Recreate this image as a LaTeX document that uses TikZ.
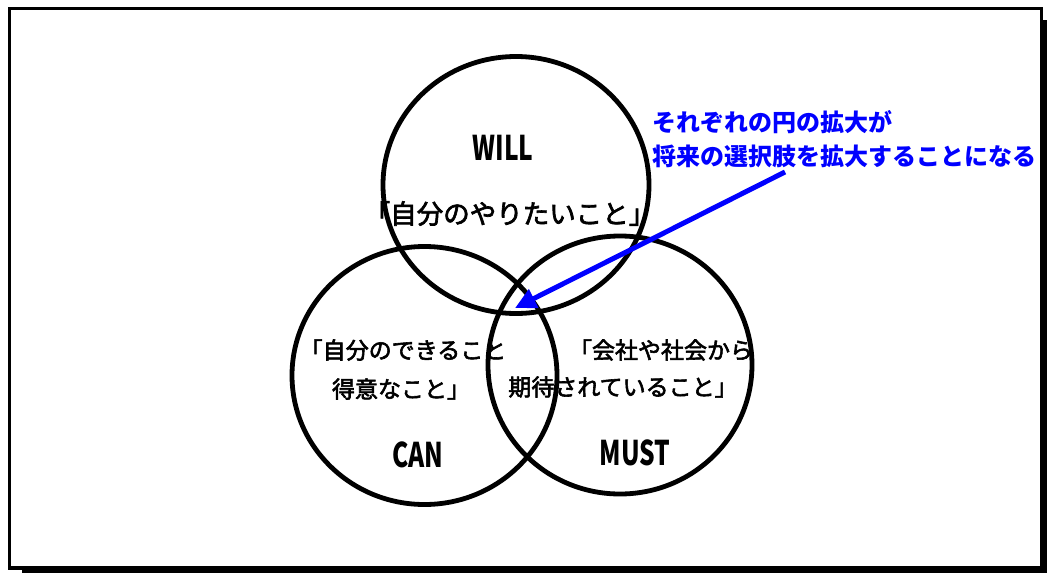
\documentclass[tikz,border=0pt]{standalone}
\usepackage{fontspec}
\usetikzlibrary{arrows.meta}
\setmainfont{Noto Sans CJK JP}
\newfontfamily\jp[FakeBold=2.5]{Noto Sans CJK JP}
\newfontfamily\jpb{Noto Sans CJK JP}
\newfontfamily\cond[FakeStretch=0.72]{Noto Sans CJK JP}
\definecolor{arrowblue}{RGB}{0,0,255}
\begin{document}
\begin{tikzpicture}[x=1pt,y=-1pt,
  venn/.style={draw=black,line width=4.8pt},
  lbl/.style={inner sep=0pt,font=\cond\bfseries\fontsize{34}{34}\selectfont},
  jtxt/.style={inner sep=0pt,font=\jp\fontsize{23}{23}\selectfont},
  bluetxt/.style={inner sep=0pt,anchor=west,text=arrowblue,font=\jpb\bfseries\fontsize{24}{24}\selectfont},
  pointer/.style={draw=arrowblue,line width=5pt,-{Triangle[length=21pt,width=20pt]}}]
\useasboundingbox (0,0) rectangle (1047,573);
% frame with shadow
\fill[black] (22,20) rectangle (1052,578);
\draw[fill=white,line width=3.5pt] (9.5,8.5) rectangle (1041.5,568);
% circles
\draw[venn] (516,185) ellipse [x radius=133, y radius=128.5];
\draw[venn] (424.5,375.5) ellipse [x radius=132.5, y radius=129];
\draw[venn] (620,365) ellipse [x radius=132, y radius=129];
% labels
\node[lbl] (will) at (503,148) {WILL};
\node[lbl] (can) at (418,455) {CAN};
\node[lbl] (must) at (635,453) {MUST};
\node[jtxt,font=\jp\fontsize{26.5}{26.5}\selectfont] (willtxt) at (509.5,213.5) {「自分のやりたいこと」};
\node[jtxt] (can1) at (403,350) {「自分のできること};
\node[jtxt] (can2) at (401,389) {得意なこと」};
\node[jtxt] (must1) at (661,350) {「会社や社会から};
\node[jtxt] (must2) at (623,387) {期待されていること」};
\node[bluetxt] (note1) at (652,122) {それぞれの円の拡大が};
\node[bluetxt] (note2) at (652,156) {将来の選択肢を拡大することになる};
% arrow
\coordinate (arrstart) at (785,172);
\coordinate (arrtip) at (515,308);
\draw[pointer] (arrstart) -- (arrtip);
\end{tikzpicture}
\end{document}
